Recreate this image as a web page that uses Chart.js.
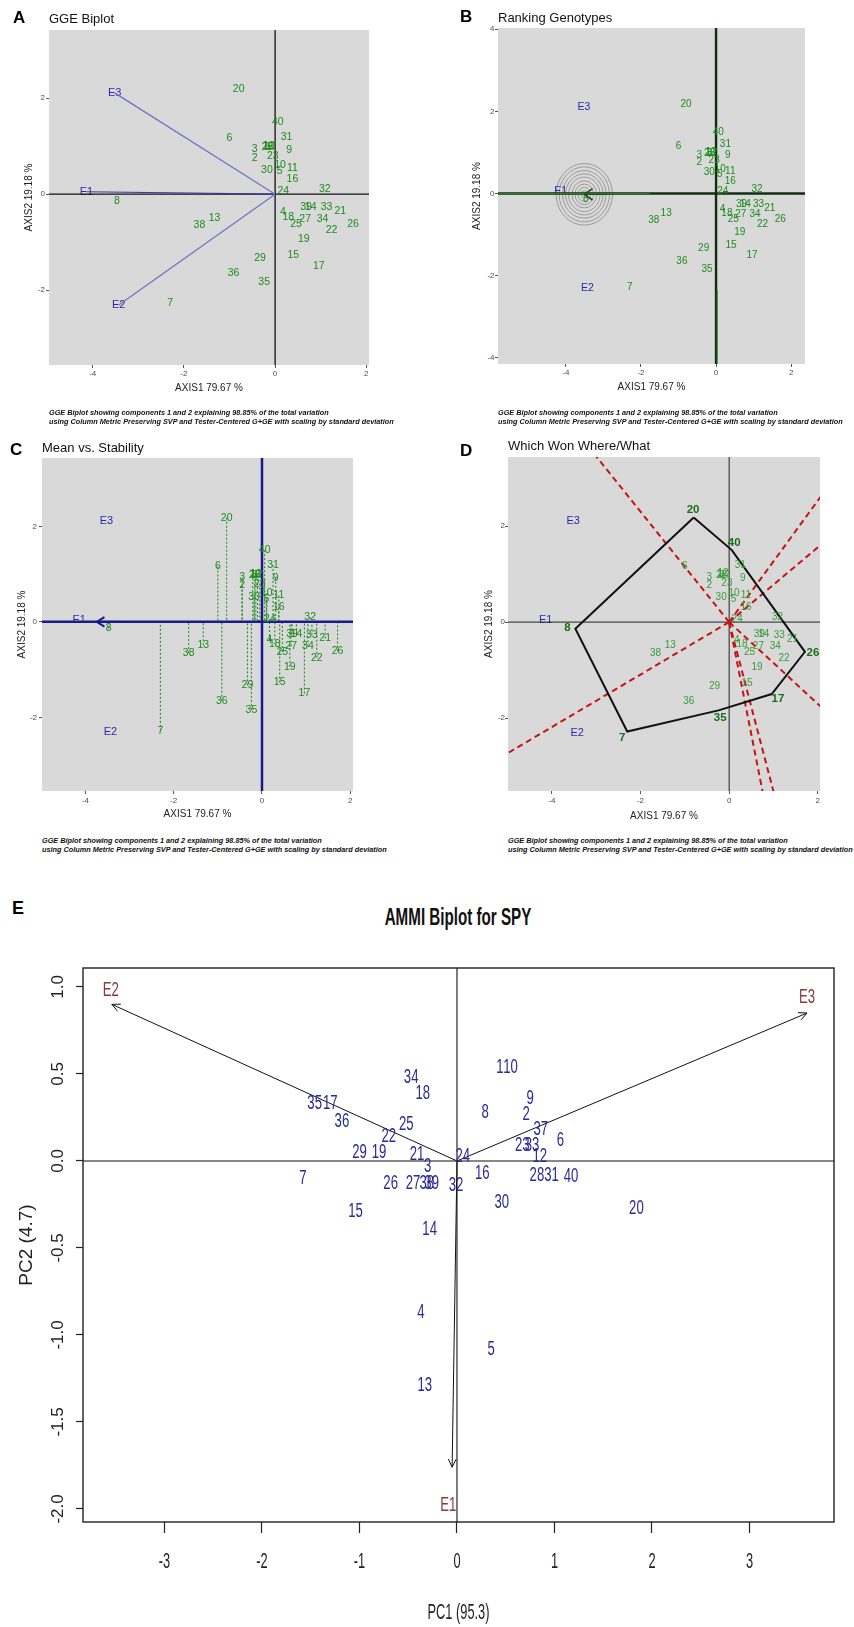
<!DOCTYPE html>
<html>
<head>
<meta charset="utf-8">
<script src="https://cdn.jsdelivr.net/npm/chart.js"></script>
<style>
body { margin: 0; background: #fff; }
#page { position: relative; width: 854px; height: 1627px; overflow: hidden; font-family: "Liberation Sans", Arial, Helvetica, sans-serif; }
#page canvas { position: absolute; }
.txt { position: absolute; white-space: nowrap; line-height: 1; }
.letter { font-weight: bold; font-size: 17px; color: #000; }
.ptitle { font-size: 13px; color: #111; }
.cap { font-size: 7.3px; font-style: italic; font-weight: bold; color: #111; line-height: 9px; }
.etitle { font-weight: bold; font-size: 23px; color: #111; transform: translate(-50%, -50%) scaleX(0.66); }
</style>
</head>
<body>
<div id="page">
  <canvas id="chartA"></canvas>
  <canvas id="chartB"></canvas>
  <canvas id="chartC"></canvas>
  <canvas id="chartD"></canvas>
  <canvas id="chartE"></canvas>

  <div class="txt letter" style="left:13px;top:9px">A</div>
  <div class="txt ptitle" style="left:49px;top:11.5px">GGE Biplot</div>
  <div class="txt letter" style="left:460px;top:8px">B</div>
  <div class="txt ptitle" style="left:498px;top:10.5px">Ranking Genotypes</div>
  <div class="txt letter" style="left:10px;top:441px">C</div>
  <div class="txt ptitle" style="left:42px;top:440.5px">Mean vs. Stability</div>
  <div class="txt letter" style="left:460px;top:441.5px">D</div>
  <div class="txt ptitle" style="left:508px;top:438.5px">Which Won Where/What</div>

  <div class="txt cap" style="left:49px;top:407.5px">GGE Biplot showing components 1 and 2 explaining 98.85% of the total variation<br>using Column Metric Preserving SVP and Tester-Centered G+GE with scaling by standard deviation</div>
  <div class="txt cap" style="left:498px;top:407.5px">GGE Biplot showing components 1 and 2 explaining 98.85% of the total variation<br>using Column Metric Preserving SVP and Tester-Centered G+GE with scaling by standard deviation</div>
  <div class="txt cap" style="left:42px;top:835.5px">GGE Biplot showing components 1 and 2 explaining 98.85% of the total variation<br>using Column Metric Preserving SVP and Tester-Centered G+GE with scaling by standard deviation</div>
  <div class="txt cap" style="left:508px;top:835.5px">GGE Biplot showing components 1 and 2 explaining 98.85% of the total variation<br>using Column Metric Preserving SVP and Tester-Centered G+GE with scaling by standard deviation</div>

  <div class="txt letter" style="left:12px;top:899px;font-size:18px">E</div>
  <div class="txt etitle" style="left:458px;top:917px">AMMI Biplot for SPY</div>
</div>

<script>
const FONT = '"Liberation Sans", Arial, Helvetica, sans-serif';

// GGE biplot scores of the genotypes (same in panels A-D)
const ggeGenotypes = ['20','6','40','31','9','3','2','1','12','28','37','23','30','10','5','11','16','24','32','39','14','33','21','4','18','27','25','34','22','26','19','15','17','29','36','35','38','13','8','7'];
const ggeAxis1 = [-0.80,-1.00,0.06,0.25,0.31,-0.45,-0.45,-0.21,-0.14,-0.17,-0.10,-0.05,-0.18,0.11,0.10,0.38,0.38,0.18,1.09,0.68,0.78,1.13,1.43,0.17,0.29,0.66,0.46,1.04,1.24,1.71,0.63,0.40,0.96,-0.33,-0.91,-0.24,-1.66,-1.33,-3.47,-2.30];
const ggeAxis2 = [2.18,1.16,1.50,1.19,0.92,0.93,0.76,1.00,1.01,0.97,0.98,0.80,0.51,0.60,0.47,0.55,0.31,0.06,0.10,-0.26,-0.26,-0.27,-0.35,-0.38,-0.47,-0.51,-0.63,-0.51,-0.75,-0.62,-0.94,-1.27,-1.50,-1.33,-1.65,-1.84,-0.65,-0.49,-0.14,-2.28];

// environments
const ggeEnvs = ['E1','E2','E3'];
const ggeEnvAxis1 = [-4.14,-3.43,-3.52];
const ggeEnvAxis2 = [0.05,-2.31,2.11];

// polygon vertices for which-won-where
const hullGenotypes = ['20','40','26','17','35','7','8'];

// ranking genotypes: ideal genotype and rings
const idealAxis1 = -3.51;
const idealAxis2 = -0.02;
const ringRadii = [0.09, 0.17, 0.25, 0.33, 0.42, 0.50, 0.58, 0.67, 0.75];

// AMMI biplot
const ammiGenotypes = ['34','18','35','17','36','25','22','29','19','21','24','7','26','27','3','38','39','32','16','30','14','15','1','10','8','9','2','37','6','12','28','31','40','20','4','13','5','23','33'];
const ammiPC1 = [-0.47,-0.35,-1.46,-1.30,-1.18,-0.52,-0.70,-1.00,-0.80,-0.41,0.06,-1.58,-0.68,-0.45,-0.30,-0.31,-0.26,-0.01,0.26,0.46,-0.28,-1.04,0.44,0.55,0.29,0.75,0.71,0.86,1.06,0.85,0.82,0.97,1.17,1.84,-0.37,-0.33,0.35,0.67,0.77];
const ammiPC2 = [0.48,0.39,0.33,0.33,0.23,0.21,0.14,0.05,0.05,0.04,0.03,-0.10,-0.13,-0.13,-0.03,-0.13,-0.13,-0.14,-0.07,-0.24,-0.39,-0.29,0.54,0.54,0.28,0.36,0.27,0.18,0.12,0.03,-0.08,-0.08,-0.09,-0.27,-0.87,-1.29,-1.08,0.09,0.09];
const ammiEnvs = ['E1','E2','E3'];
const ammiEnvPC1 = [-0.05,-3.54,3.59];
const ammiEnvPC2 = [-1.76,0.90,0.85];
const ammiEnvLabelPC1 = [-0.09,-3.55,3.59];
const ammiEnvLabelPC2 = [-1.98,0.98,0.94];

// ticks
const ggeTicksX = [-4,-2,0,2];
const ggeTicksY = [-2,0,2];
const rankTicksY = [-4,-2,0,2,4];
const ammiTicksX = [-3,-2,-1,0,1,2,3];
const ammiTicksY = [-2,-1.5,-1,-0.5,0,0.5,1];

// ---------- plugins ----------
const panelBg = {
  id: 'panelBg',
  beforeDraw(chart, args, opts) {
    if (!opts || !opts.color) return;
    const a = chart.chartArea, ctx = chart.ctx;
    ctx.save();
    ctx.fillStyle = opts.color;
    ctx.fillRect(a.left, a.top, a.right - a.left, a.bottom - a.top);
    ctx.restore();
  }
};

const rings = {
  id: 'rings',
  beforeDatasetsDraw(chart, args, opts) {
    if (!opts || !opts.radii) return;
    const xs = chart.scales.x, ys = chart.scales.y, ctx = chart.ctx;
    const px = xs.getPixelForValue(opts.cx), py = ys.getPixelForValue(opts.cy);
    ctx.save();
    ctx.strokeStyle = opts.color;
    ctx.lineWidth = opts.width;
    opts.radii.forEach(r => {
      const rx = Math.abs(xs.getPixelForValue(opts.cx + r) - px);
      const ry = Math.abs(ys.getPixelForValue(opts.cy + r) - py);
      ctx.beginPath();
      ctx.ellipse(px, py, rx, ry, 0, 0, Math.PI * 2);
      ctx.stroke();
    });
    ctx.restore();
  }
};

const frame = {
  id: 'frame',
  afterDatasetsDraw(chart, args, opts) {
    if (!opts || !opts.color) return;
    const a = chart.chartArea, ctx = chart.ctx;
    ctx.save();
    ctx.strokeStyle = opts.color;
    ctx.lineWidth = opts.width;
    ctx.strokeRect(a.left, a.top, a.right - a.left, a.bottom - a.top);
    ctx.restore();
  }
};

// condensed x tick labels + x title for the AMMI panel (R base graphics look)
const narrowAxis = {
  id: 'narrowAxis',
  afterDraw(chart, args, opts) {
    if (!opts || !opts.font) return;
    const s = chart.scales.x, ctx = chart.ctx;
    const put = (text, x, y) => {
      ctx.save();
      ctx.translate(x, y);
      ctx.scale(opts.sx, opts.sy);
      ctx.fillText(text, 0, 0);
      ctx.restore();
    };
    ctx.save();
    ctx.font = opts.font;
    ctx.fillStyle = opts.color;
    ctx.textAlign = 'center';
    ctx.textBaseline = 'middle';
    s.ticks.forEach(t => put(String(t.value), s.getPixelForValue(t.value), s.top + opts.tickOffset));
    put(opts.title, (s.left + s.right) / 2, s.top + opts.titleOffset);
    ctx.restore();
  }
};

function drawTexts(chart, layer) {
  const ctx = chart.ctx;
  chart.data.datasets.forEach((ds, i) => {
    if (!ds.texts || (ds.layer || 'over') !== layer) return;
    const pts = chart.getDatasetMeta(i).data;
    let cx = 0, cy = 0;
    pts.forEach(p => { cx += p.x / pts.length; cy += p.y / pts.length; });
    ctx.save();
    ctx.font = ds.textFont;
    ctx.fillStyle = ds.textColor;
    ctx.textAlign = 'center';
    ctx.textBaseline = 'middle';
    pts.forEach((p, j) => {
      let x = p.x, y = p.y;
      if (ds.outward) {
        const dx = p.x - cx, dy = p.y - cy, d = Math.hypot(dx, dy) || 1;
        x += dx / d * ds.outward;
        y += dy / d * ds.outward;
      }
      ctx.save();
      ctx.translate(x, y);
      ctx.scale(ds.sx || 1, ds.sy || 1);
      ctx.fillText(ds.texts[j], 0, 0);
      ctx.restore();
    });
    ctx.restore();
  });
}

const textMarks = {
  id: 'textMarks',
  beforeDatasetsDraw(chart) { drawTexts(chart, 'under'); },
  afterDatasetsDraw(chart) { drawTexts(chart, 'over'); }
};

const arrowHeads = {
  id: 'arrowHeads',
  afterDatasetsDraw(chart) {
    const ctx = chart.ctx;
    chart.data.datasets.forEach((ds, i) => {
      if (!ds.arrowLen) return;
      const pts = chart.getDatasetMeta(i).data;
      const a = pts[pts.length - 2], b = pts[pts.length - 1];
      const ang = Math.atan2(b.y - a.y, b.x - a.x);
      ctx.save();
      ctx.strokeStyle = ds.borderColor;
      ctx.lineWidth = ds.arrowWidth || ds.borderWidth;
      ctx.beginPath();
      [1, -1].forEach(s => {
        ctx.moveTo(b.x - ds.arrowLen * Math.cos(ang - s * ds.arrowAngle), b.y - ds.arrowLen * Math.sin(ang - s * ds.arrowAngle));
        ctx.lineTo(b.x, b.y);
      });
      ctx.stroke();
      ctx.restore();
    });
  }
};

Chart.register(panelBg, rings, frame, narrowAxis, textMarks, arrowHeads);

// ---------- helpers ----------
function points(xs, ys) {
  return xs.map((x, i) => ({ x: x, y: ys[i] }));
}

function textSet(xs, ys, texts, style) {
  return Object.assign({ data: points(xs, ys), texts: texts, pointRadius: 0, showLine: false }, style);
}

function lineSet(pts, color, width, extra) {
  return Object.assign({ data: pts, showLine: true, pointRadius: 0, borderColor: color, borderWidth: width, fill: false, tension: 0 }, extra || {});
}

function stack(sets) {
  // later sets are drawn on top
  sets.forEach((d, i) => { d.order = sets.length - i; });
  return sets;
}

function placeCanvas(id, left, top, w, h) {
  const c = document.getElementById(id);
  c.width = w; c.height = h;
  c.style.left = left + 'px'; c.style.top = top + 'px';
  c.style.width = w + 'px'; c.style.height = h + 'px';
  return c;
}

function ggeOptions(p) {
  const tickFont = { family: FONT, size: 8 };
  const titleFont = { family: FONT, size: 10 };
  return {
    responsive: false,
    animation: false,
    events: [],
    layout: { padding: { left: 0, top: p.area.t, right: p.w - p.area.r, bottom: 0 } },
    plugins: {
      legend: { display: false },
      tooltip: { enabled: false },
      panelBg: { color: '#d9d9d9' },
      rings: p.rings || {}
    },
    scales: {
      x: {
        type: 'linear', position: 'bottom', min: p.xMin, max: p.xMax,
        afterBuildTicks: s => { s.ticks = ggeTicksX.map(v => ({ value: v })); },
        afterFit: s => { s.height = p.h - p.area.b; },
        grid: { drawOnChartArea: false, tickLength: 3, tickColor: '#555', tickWidth: 1 },
        border: { display: false },
        ticks: { font: tickFont, color: '#4d4d4d', padding: p.xTickPad, autoSkip: false, maxRotation: 0, callback: v => String(v) },
        title: { display: true, text: 'AXIS1 79.67 %', font: titleFont, color: '#222', padding: { top: 0, bottom: p.xTitlePad } }
      },
      y: {
        type: 'linear', position: 'left', min: p.yMin, max: p.yMax,
        afterBuildTicks: s => { s.ticks = p.yTicks.map(v => ({ value: v })); },
        afterFit: s => { s.width = p.area.l; },
        grid: { drawOnChartArea: false, tickLength: 3, tickColor: '#555', tickWidth: 1 },
        border: { display: false },
        ticks: { font: tickFont, color: '#4d4d4d', padding: p.yTickPad, autoSkip: false, callback: v => String(v) },
        title: { display: true, text: 'AXIS2 19.18 %', font: titleFont, color: '#222', padding: { top: p.yTitlePad, bottom: 0 } }
      }
    }
  };
}

const genoGreen = '#1f8a1f';
const envBlue = '#2b2ba6';

function genotypeLabels(size, color) {
  return textSet(ggeAxis1, ggeAxis2, ggeGenotypes, { textFont: size + 'px ' + FONT, textColor: color });
}
function envLabels(size) {
  return textSet(ggeEnvAxis1, ggeEnvAxis2, ggeEnvs, { textFont: size + 'px ' + FONT, textColor: envBlue, layer: 'under' });
}

// ---------- A: GGE biplot ----------
(function () {
  const p = { w: 427, h: 400, area: { l: 49, t: 30, r: 369, b: 365 }, xMin: -4.96, xMax: 2.06, yMin: -3.56, yMax: 3.42,
    yTicks: ggeTicksY, xTickPad: 1.2, yTickPad: 1, xTitlePad: 6, yTitlePad: 23 };
  placeCanvas('chartA', 0, 0, p.w, p.h);
  const sets = [
    lineSet([{ x: p.xMin, y: 0 }, { x: p.xMax, y: 0 }], '#111', 1.3),
    lineSet([{ x: 0, y: p.yMin }, { x: 0, y: p.yMax }], '#111', 1.3)
  ];
  ggeEnvs.forEach((e, i) => {
    sets.push(lineSet([{ x: 0, y: 0 }, { x: ggeEnvAxis1[i], y: ggeEnvAxis2[i] }], i === 0 ? '#3d3d99' : '#7070c8', 1.2));
  });
  sets.push(envLabels(11));
  sets.push(genotypeLabels(10.5, genoGreen));
  new Chart(document.getElementById('chartA'), { type: 'scatter', data: { datasets: stack(sets) }, options: ggeOptions(p) });
})();

// ---------- B: Ranking genotypes ----------
(function () {
  const p = { w: 427, h: 400, area: { l: 71, t: 28, r: 378, b: 364 }, xMin: -5.81, xMax: 2.37, yMin: -4.15, yMax: 4.03,
    yTicks: rankTicksY, xTickPad: 1, yTickPad: 0.5, xTitlePad: 7, yTitlePad: 44,
    rings: { cx: idealAxis1, cy: idealAxis2, radii: ringRadii, color: '#8a8a8a', width: 0.8 } };
  placeCanvas('chartB', 427, 0, p.w, p.h);
  const sets = [
    lineSet([{ x: p.xMin, y: 0 }, { x: p.xMax, y: 0 }], '#0f2f0f', 2.4),
    lineSet([{ x: 0, y: p.yMin }, { x: 0, y: p.yMax }], '#0f2f0f', 2.4),
    lineSet([{ x: p.xMin, y: 0 }, { x: -1.76, y: 0 }], '#2d7d2d', 1),
    lineSet([{ x: 0.03, y: p.yMin }, { x: 0.03, y: -2.35 }], '#2d7d2d', 1),
    lineSet([{ x: -2.9, y: idealAxis2 }, { x: idealAxis1, y: idealAxis2 }], '#1d4d1d', 1.2, { arrowLen: 10, arrowAngle: 0.6, arrowWidth: 1.6 }),
    envLabels(10.5),
    genotypeLabels(10, genoGreen)
  ];
  new Chart(document.getElementById('chartB'), { type: 'scatter', data: { datasets: stack(sets) }, options: ggeOptions(p) });
})();

// ---------- C: Mean vs stability ----------
(function () {
  const p = { w: 427, h: 403, area: { l: 42, t: 33, r: 353, b: 366 }, xMin: -4.98, xMax: 2.06, yMin: -3.54, yMax: 3.43,
    yTicks: ggeTicksY, xTickPad: 2, yTickPad: 2, xTitlePad: 8, yTitlePad: 16 };
  placeCanvas('chartC', 0, 425, p.w, p.h);
  const sets = [];
  ggeGenotypes.forEach((g, i) => {
    sets.push(lineSet([{ x: ggeAxis1[i], y: ggeAxis2[i] }, { x: ggeAxis1[i], y: 0 }], '#2a8a2a', 1.1, { borderDash: [2, 2] }));
  });
  sets.push(lineSet([{ x: p.xMin, y: 0 }, { x: p.xMax, y: 0 }], '#1a1a8c', 2.5));
  sets.push(lineSet([{ x: 0, y: p.yMin }, { x: 0, y: p.yMax }], '#1a1a8c', 2.5));
  sets.push(lineSet([{ x: -3.2, y: 0 }, { x: -3.74, y: 0 }], '#1a1a8c', 2, { arrowLen: 9, arrowAngle: 0.55 }));
  sets.push(envLabels(11));
  sets.push(genotypeLabels(10.5, genoGreen));
  new Chart(document.getElementById('chartC'), { type: 'scatter', data: { datasets: stack(sets) }, options: ggeOptions(p) });
})();

// ---------- D: Which won where ----------
(function () {
  const p = { w: 427, h: 403, area: { l: 81, t: 32, r: 393, b: 366 }, xMin: -4.99, xMax: 2.05, yMin: -3.52, yMax: 3.44,
    yTicks: ggeTicksY, xTickPad: 2, yTickPad: 0, xTitlePad: 6, yTitlePad: 56 };
  placeCanvas('chartD', 427, 425, p.w, p.h);
  const hx = hullGenotypes.map(g => ggeAxis1[ggeGenotypes.indexOf(g)]);
  const hy = hullGenotypes.map(g => ggeAxis2[ggeGenotypes.indexOf(g)]);
  const sets = [
    lineSet([{ x: p.xMin, y: 0 }, { x: p.xMax, y: 0 }], '#222', 1),
    lineSet([{ x: 0, y: p.yMin }, { x: 0, y: p.yMax }], '#222', 1)
  ];
  // rays from the origin perpendicular to each side of the polygon
  for (let i = 0; i < hx.length; i++) {
    const j = (i + 1) % hx.length;
    let nx = hy[j] - hy[i], ny = -(hx[j] - hx[i]);
    if (nx * (hx[i] + hx[j]) + ny * (hy[i] + hy[j]) < 0) { nx = -nx; ny = -ny; }
    const len = Math.hypot(nx, ny);
    sets.push(lineSet([{ x: 0, y: 0 }, { x: nx / len * 12, y: ny / len * 12 }], '#c41414', 2, { borderDash: [6, 4] }));
  }
  sets.push(lineSet(points(hx.concat(hx[0]), hy.concat(hy[0])), '#111', 2));
  sets.push(envLabels(11));
  const ox = [], oy = [], ot = [];
  ggeGenotypes.forEach((g, i) => {
    if (hullGenotypes.indexOf(g) < 0) { ox.push(ggeAxis1[i]); oy.push(ggeAxis2[i]); ot.push(g); }
  });
  sets.push(textSet(ox, oy, ot, { textFont: '10px ' + FONT, textColor: '#3b9b3b' }));
  sets.push(textSet(hx, hy, hullGenotypes, { textFont: 'bold 11.5px ' + FONT, textColor: '#1a6e1a', outward: 8 }));
  new Chart(document.getElementById('chartD'), { type: 'scatter', data: { datasets: stack(sets) }, options: ggeOptions(p) });
})();

// ---------- E: AMMI biplot ----------
(function () {
  const w = 854, h = 677, area = { l: 83, t: 18, r: 834, b: 572 };
  const xMin = -3.836, xMax = 3.867, yMin = -2.075, yMax = 1.109;
  placeCanvas('chartE', 0, 950, w, h);
  const sets = [
    lineSet([{ x: xMin, y: 0 }, { x: xMax, y: 0 }], '#111', 1.1),
    lineSet([{ x: 0, y: yMin }, { x: 0, y: yMax }], '#111', 1.1)
  ];
  ammiEnvs.forEach((e, i) => {
    sets.push(lineSet([{ x: 0, y: 0 }, { x: ammiEnvPC1[i], y: ammiEnvPC2[i] }], '#111', 1, { arrowLen: 9, arrowAngle: 0.45 }));
  });
  sets.push(textSet(ammiEnvLabelPC1, ammiEnvLabelPC2, ammiEnvs, { textFont: '15.5px ' + FONT, textColor: '#8b3a3a', sx: 0.85, sy: 1.35 }));
  sets.push(textSet(ammiPC1, ammiPC2, ammiGenotypes, { textFont: '15.5px ' + FONT, textColor: '#2a2a96', sx: 0.85, sy: 1.35 }));
  new Chart(document.getElementById('chartE'), {
    type: 'scatter',
    data: { datasets: stack(sets) },
    options: {
      responsive: false,
      animation: false,
      events: [],
      layout: { padding: { left: 0, top: area.t, right: w - area.r, bottom: 0 } },
      plugins: {
        legend: { display: false },
        tooltip: { enabled: false },
        frame: { color: '#222', width: 1.4 },
        narrowAxis: { font: '16px ' + FONT, color: '#222', sx: 0.8, sy: 1.4, tickOffset: 40, title: 'PC1 (95.3)', titleOffset: 91 }
      },
      scales: {
        x: {
          type: 'linear', position: 'bottom', min: xMin, max: xMax,
          afterBuildTicks: s => { s.ticks = ammiTicksX.map(v => ({ value: v })); },
          afterFit: s => { s.height = h - area.b; },
          grid: { drawOnChartArea: false, tickLength: 11, tickColor: '#222', tickWidth: 1.2 },
          border: { display: false },
          ticks: { display: false },
          title: { display: false }
        },
        y: {
          type: 'linear', position: 'left', min: yMin, max: yMax,
          afterBuildTicks: s => { s.ticks = ammiTicksY.map(v => ({ value: v })); },
          afterFit: s => { s.width = area.l; },
          grid: { drawOnChartArea: false, tickLength: 7, tickColor: '#222', tickWidth: 1.2 },
          border: { display: false },
          ticks: { font: { family: FONT, size: 17 }, color: '#222', padding: 3.4, autoSkip: false, minRotation: 90, maxRotation: 90, crossAlign: 'center', callback: v => v.toFixed(1) },
          title: { display: true, text: 'PC2 (4.7)', font: { family: FONT, size: 19 }, color: '#222', padding: { top: 15.6, bottom: 0 } }
        }
      }
    }
  });
})();
</script>
</body>
</html>
